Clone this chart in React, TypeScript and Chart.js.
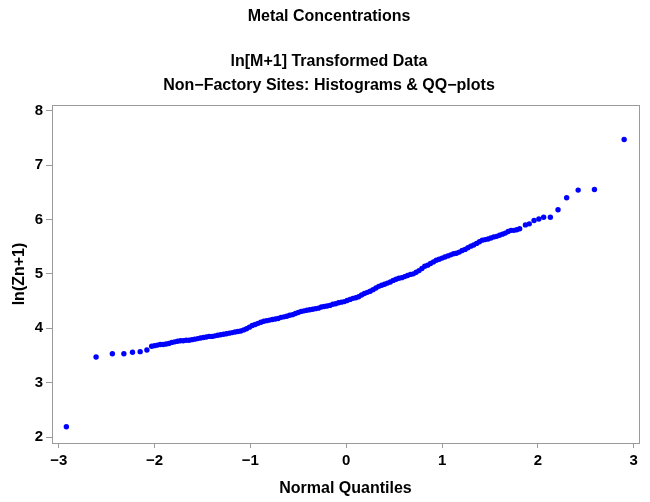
import React, { useEffect, useRef } from "react";
import { Chart, registerables } from "chart.js";

Chart.register(...registerables);

const titleLines = [
  "Metal Concentrations",
  "ln[M+1] Transformed Data",
  "Non\u2212Factory Sites: Histograms & QQ\u2212plots",
];
const xTitle = "Normal Quantiles";
const yTitle = "ln(Zn+1)";
const xTicks = [-3, -2, -1, 0, 1, 2, 3];
const yTicks = [2, 3, 4, 5, 6, 7, 8];

// Normal quantiles (x)
const quantiles = [
  -2.92, -2.61, -2.44, -2.32, -2.23, -2.15, -2.08, -2.03,
  -2.0, -1.97, -1.94, -1.91, -1.88, -1.85, -1.82, -1.79, -1.76, -1.73,
  -1.7, -1.67, -1.64, -1.61, -1.58, -1.55, -1.52, -1.49, -1.46, -1.43,
  -1.4, -1.37, -1.34, -1.31, -1.28, -1.25, -1.22, -1.19, -1.16, -1.13,
  -1.1, -1.07, -1.04, -1.01, -0.98, -0.95, -0.92, -0.89, -0.86, -0.83,
  -0.8, -0.77, -0.74, -0.71, -0.68, -0.65, -0.62, -0.59, -0.56, -0.53,
  -0.5, -0.47, -0.44, -0.41, -0.38, -0.35, -0.32, -0.29, -0.26, -0.23,
  -0.2, -0.17, -0.14, -0.11, -0.08, -0.05, -0.02, 0.01, 0.04, 0.07,
  0.1, 0.13, 0.16, 0.19, 0.22, 0.25, 0.28, 0.31, 0.34, 0.37,
  0.4, 0.43, 0.46, 0.49, 0.52, 0.55, 0.58, 0.61, 0.64, 0.67,
  0.7, 0.73, 0.76, 0.79, 0.82, 0.85, 0.88, 0.91, 0.94, 0.97,
  1.0, 1.03, 1.06, 1.09, 1.12, 1.15, 1.18, 1.21, 1.24, 1.27,
  1.3, 1.33, 1.36, 1.39, 1.42, 1.45, 1.48, 1.51, 1.54, 1.57,
  1.6, 1.63, 1.66, 1.69, 1.72, 1.75, 1.78, 1.81,
  1.87, 1.91, 1.96, 2.01, 2.06, 2.13, 2.21, 2.3, 2.42, 2.59, 2.9,
];

// Sorted ln(Zn+1) values (y)
const values = [
  2.19, 3.47, 3.53, 3.53, 3.56, 3.57, 3.6, 3.67,
  3.68, 3.69, 3.7, 3.7, 3.71, 3.72, 3.74, 3.75, 3.76, 3.77,
  3.77, 3.78, 3.78, 3.79, 3.8, 3.81, 3.82, 3.83, 3.84, 3.85,
  3.85, 3.86, 3.87, 3.88, 3.89, 3.9, 3.91, 3.92, 3.93, 3.94,
  3.95, 3.97, 3.99, 4.02, 4.05, 4.07, 4.09, 4.11, 4.13, 4.14,
  4.15, 4.16, 4.17, 4.18, 4.2, 4.21, 4.22, 4.24, 4.25, 4.27,
  4.29, 4.31, 4.32, 4.33, 4.34, 4.35, 4.36, 4.37, 4.39, 4.4,
  4.41, 4.42, 4.44, 4.45, 4.47, 4.48, 4.49, 4.51, 4.53, 4.55,
  4.56, 4.58, 4.61, 4.64, 4.66, 4.68, 4.71, 4.74, 4.77, 4.79,
  4.81, 4.83, 4.85, 4.88, 4.9, 4.92, 4.93, 4.95, 4.97, 4.99,
  5.0, 5.03, 5.06, 5.1, 5.14, 5.16, 5.19, 5.22, 5.25, 5.27,
  5.29, 5.31, 5.33, 5.35, 5.37, 5.38, 5.4, 5.43, 5.45, 5.48,
  5.51, 5.53, 5.56, 5.59, 5.62, 5.63, 5.64, 5.66, 5.68, 5.69,
  5.71, 5.73, 5.75, 5.78, 5.8, 5.8, 5.81, 5.83,
  5.9, 5.92, 5.98, 6.01, 6.04, 6.04, 6.18, 6.4, 6.54, 6.55, 7.47,
];

const FONT = "'Liberation Sans', Arial, Helvetica, sans-serif";
const FRAME = "#9a9a9a";
const minus = (v: number) => (v < 0 ? "\u2212" + Math.abs(v) : String(v));

const framePlugin = {
  id: "frameAndTitles",
  afterDraw(chart: any) {
    const { ctx, chartArea } = chart;
    ctx.save();
    ctx.strokeStyle = FRAME;
    ctx.lineWidth = 1;
    ctx.strokeRect(
      Math.round(chartArea.left) + 0.5,
      Math.round(chartArea.top) + 0.5,
      Math.round(chartArea.right - chartArea.left),
      Math.round(chartArea.bottom - chartArea.top)
    );
    ctx.fillStyle = "#000";
    ctx.textAlign = "center";
    ctx.textBaseline = "middle";
    ctx.font = `bold 16px ${FONT}`;
    const ys = [17, 62, 86];
    titleLines.forEach((t, i) => ctx.fillText(t, 329, ys[i]));
    ctx.restore();
  },
};

export default function App() {
  const ref = useRef<HTMLCanvasElement | null>(null);
  useEffect(() => {
    document.body.style.margin = "0";
    const canvas = ref.current!;
    const points = quantiles.map((q, i) => ({ x: q, y: values[i] }));
    const chart = new Chart(canvas, {
      type: "scatter",
      data: {
        datasets: [
          {
            data: points,
            backgroundColor: "#0000ff",
            borderColor: "#0000ff",
            borderWidth: 0,
            pointRadius: 2.7,
            pointHoverRadius: 2.7,
          },
        ],
      },
      options: {
        animation: false,
        responsive: false,
        devicePixelRatio: 1,
        layout: { padding: { top: 105, right: 11, left: 0, bottom: 0 } },
        plugins: {
          legend: { display: false },
          title: { display: false },
          tooltip: { enabled: false },
        },
        scales: {
          x: {
            type: "linear",
            min: -3.07,
            max: 3.055,
            afterBuildTicks: (s: any) => {
              s.ticks = xTicks.map((v) => ({ value: v }));
            },
            afterFit: (s: any) => {
              s.height = 59;
            },
            border: { display: true, color: FRAME },
            grid: {
              display: true,
              drawOnChartArea: false,
              drawTicks: true,
              tickLength: 5,
              color: FRAME,
            },
            ticks: {
              color: "#000",
              padding: 4,
              maxRotation: 0,
              font: { family: FONT, size: 15, weight: "bold" },
              callback: (v: any) => minus(Number(v)),
            },
            title: {
              display: true,
              text: xTitle,
              color: "#000",
              font: { family: FONT, size: 16, weight: "bold" },
              padding: { top: 0, bottom: 4 },
            },
          },
          y: {
            type: "linear",
            min: 1.89,
            max: 8.105,
            afterBuildTicks: (s: any) => {
              s.ticks = yTicks.map((v) => ({ value: v }));
            },
            afterFit: (s: any) => {
              s.width = 52;
            },
            border: { display: true, color: FRAME },
            grid: {
              display: true,
              drawOnChartArea: false,
              drawTicks: true,
              tickLength: 6,
              color: FRAME,
            },
            ticks: {
              color: "#000",
              padding: 3,
              font: { family: FONT, size: 15, weight: "bold" },
              callback: (v: any) => minus(Number(v)),
            },
            title: {
              display: true,
              text: yTitle,
              color: "#000",
              font: { family: FONT, size: 16, weight: "bold" },
              padding: { top: 10, bottom: 0 },
            },
          },
        },
      },
      plugins: [framePlugin],
    } as any);
    return () => chart.destroy();
  }, []);
  return (
    <div style={{ position: "absolute", left: 0, top: 0, width: 650, height: 502, background: "#fff" }}>
      <canvas ref={ref} width={650} height={502} />
    </div>
  );
}
